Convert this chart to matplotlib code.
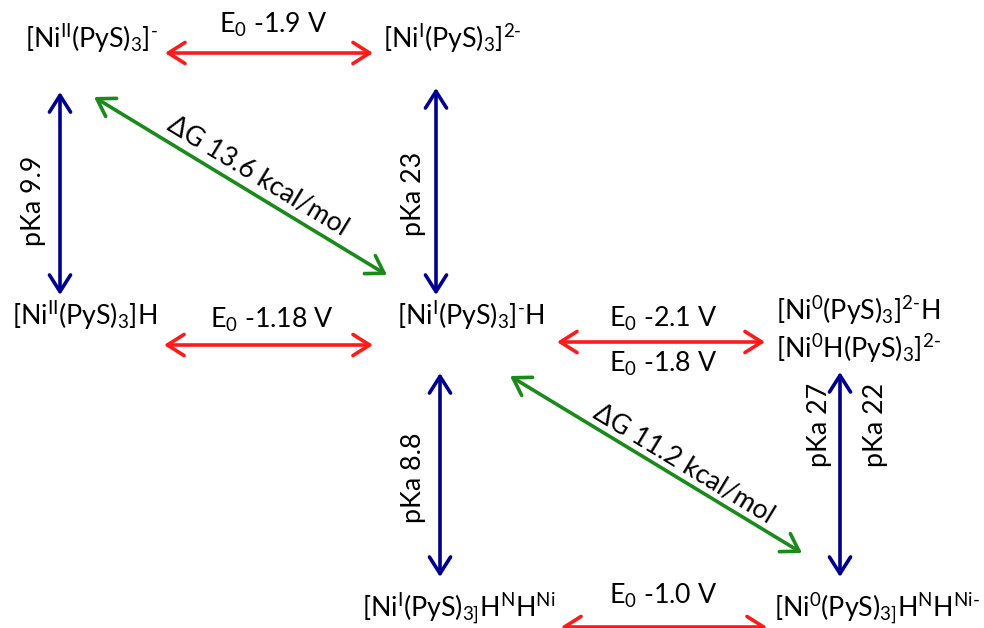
import matplotlib
matplotlib.use("Agg")
import matplotlib.pyplot as plt
import numpy as np

plt.rcParams['font.family'] = ['Lato', 'DejaVu Sans']
plt.rcParams['mathtext.fontset'] = 'custom'
plt.rcParams['mathtext.rm'] = 'Lato'
plt.rcParams['mathtext.it'] = 'Lato'
plt.rcParams['mathtext.bf'] = 'Lato'
plt.rcParams['mathtext.default'] = 'regular'

H = '\u2010'  # short hyphen

# ---- data ----
species = [
    r'[Ni$^{II}$(PyS)$_3$]$^{%s}$' % H,
    r'[Ni$^{I}$(PyS)$_3$]$^{2%s}$' % H,
    r'[Ni$^{II}$(PyS)$_3$]H',
    r'[Ni$^{I}$(PyS)$_3$]$^{%s}$H' % H,
    r'[Ni$^{0}$(PyS)$_3$]$^{2%s}$H' % H,
    r'[Ni$^{0}$H(PyS)$_3$]$^{2%s}$' % H,
    r'[Ni$^{I}$(PyS)$_{3]}$H$^{N}$H$^{Ni}$',
    r'[Ni$^{0}$(PyS)$_{3]}$H$^{N}$H$^{Ni%s}$' % H,
]
e0_values = ['-1.9', '-1.18', '-2.1', '-1.8', '-1.0']
pka_values = ['9.9', '23', '8.8', '27', '22']
dg_values = ['13.6', '11.2']

# ---- layout (pixel coordinates) ----
species_pos = [(25, 48), (383, 48), (12, 325), (397, 325),
               (776, 320), (776, 358), (362, 618), (774, 618)]
red_arrows = [((165, 53), (373, 53)), ((164, 345), (373, 345)),
              ((557, 342), (765, 342)), ((561, 627), (767, 627))]
e0_pos = [(273, 33), (272, 328), (663, 327), (663, 372), (663, 604)]
blue_arrows = [((60, 92), (60, 295)), ((436, 88), (436, 295)),
               ((440, 373), (440, 577)), ((840, 372), (840, 577))]
pka_pos = [(33, 201), (413, 194), (413, 478), (820, 425), (876, 425)]
green_arrows = [((94, 97), (387, 275)), ((510, 376), (802, 553))]
dg_pos = [(258, 176), (684, 464)]

RED = '#ff1a1a'
BLUE = '#000090'
GREEN = '#1a8a1a'
FS = 19.3

fig = plt.figure(figsize=(9.84, 6.28), dpi=100)
ax = fig.add_axes([0, 0, 1, 1])
ax.set_xlim(0, 984)
ax.set_ylim(628, 0)
ax.axis('off')

for txt, (x, y) in zip(species, species_pos):
    ax.text(x, y, txt, fontsize=FS, ha='left', va='baseline', color='black')

def arrow(p0, p1, color):
    ax.annotate('', xy=p1, xytext=p0,
                arrowprops=dict(arrowstyle='<->,head_length=0.6,head_width=0.38',
                                color=color, lw=2.6, shrinkA=0, shrinkB=0,
                                mutation_scale=20))

for p0, p1 in red_arrows:
    arrow(p0, p1, RED)
for p0, p1 in blue_arrows:
    arrow(p0, p1, BLUE)
for p0, p1 in green_arrows:
    arrow(p0, p1, GREEN)

for v, (x, y) in zip(e0_values, e0_pos):
    ax.text(x, y, r'E$_0$ ' + v + ' V', fontsize=FS, ha='center', va='baseline')

for v, (x, y) in zip(pka_values, pka_pos):
    ax.text(x, y, 'pKa ' + v, fontsize=FS, ha='center', va='center', rotation=90)

for v, (x, y), (p0, p1) in zip(dg_values, dg_pos, green_arrows):
    ang = np.degrees(np.arctan2(p1[1] - p0[1], p1[0] - p0[0]))
    ax.text(x, y, '\u0394G ' + v + ' kcal/mol', fontsize=FS, ha='center', va='center',
            rotation=-ang, rotation_mode='anchor')

fig.savefig('out.png', dpi=100)
